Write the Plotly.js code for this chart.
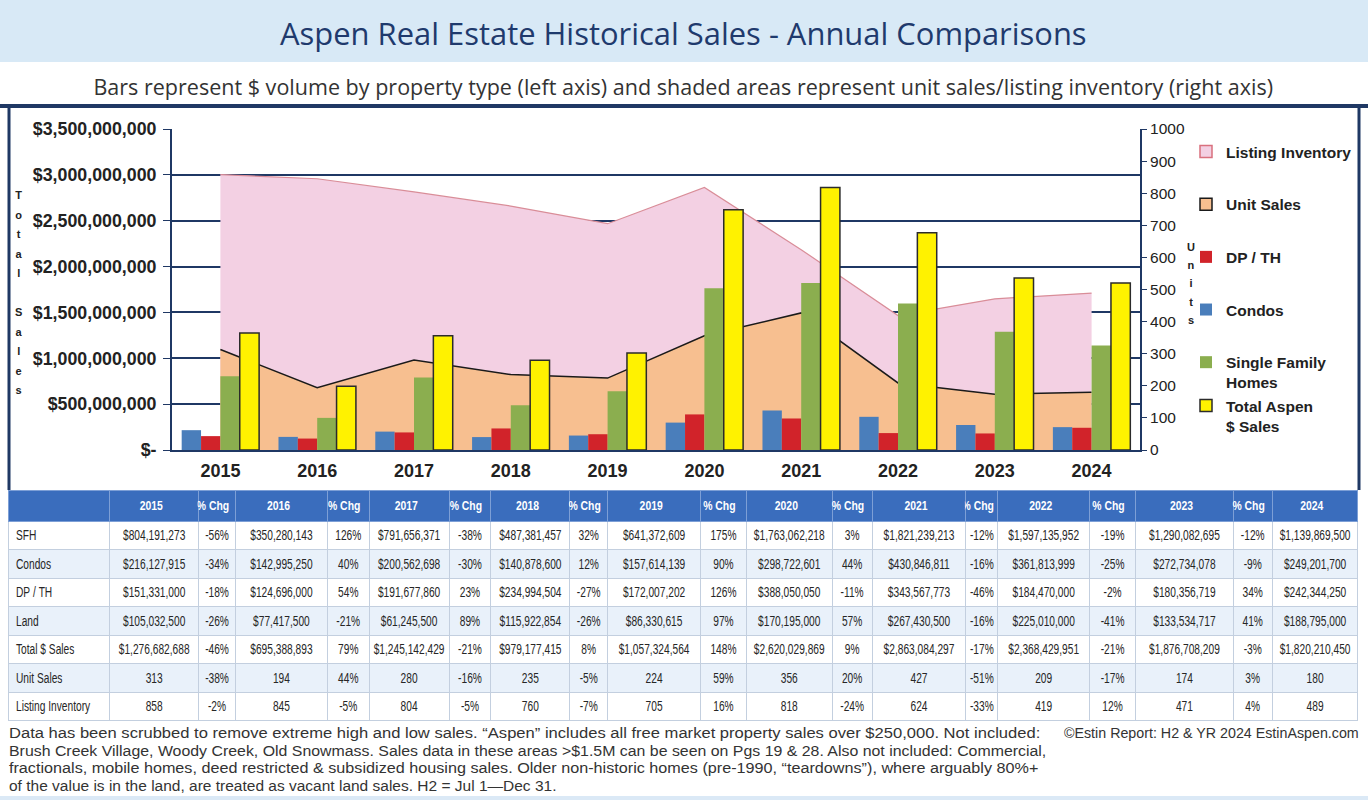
<!DOCTYPE html>
<html><head><meta charset="utf-8">
<script src="https://cdn.plot.ly/plotly-3.0.1.min.js"></script>
<style>html,body{margin:0;padding:0;background:#fff;} #chart{width:1368px;height:800px;}</style>
</head><body><div id="chart"></div>
<script>
// ---------------- DATA ----------------
const years = ['2015','2016','2017','2018','2019','2020','2021','2022','2023','2024'];
const sfh = [804191273,350280143,791656371,487381457,641372609,1763062218,1821239213,1597135952,1290082695,1139869500];
const condos = [216127915,142995250,200562698,140878600,157614139,298722601,430846811,361813999,272734078,249201700];
const dpth = [151331000,124696000,191677860,234994504,172007202,388050050,343567773,184470000,180356719,242344250];
const land = [105032500,77417500,61245500,115922854,86330615,170195000,267430500,225010000,133534717,188795000];
const totalSales = [1276682688,695388893,1245142429,979177415,1057324564,2620029869,2863084297,2368429951,1876708209,1820210450];
const unitSales = [313,194,280,235,224,356,427,209,174,180];
const listingInventory = [858,845,804,760,705,818,624,419,471,489];

const sfhChg = [-56,126,-38,32,175,3,-12,-19,-12];
const condosChg = [-34,40,-30,12,90,44,-16,-25,-9];
const dpthChg = [-18,54,23,-27,126,-11,-46,-2,34];
const landChg = [-26,-21,89,-26,97,57,-16,-41,41];
const totalChg = [-46,79,-21,8,148,9,-17,-21,-3];
const unitChg = [-38,44,-16,-5,59,20,-51,-17,3];
const inventoryChg = [-2,-5,-5,-7,16,-24,-33,12,4];

const rowLabels = ['SFH','Condos','DP / TH','Land','Total $ Sales','Unit Sales','Listing Inventory'];
const pctHeader = '% Chg';
const dollarTicks = [0,500000000,1000000000,1500000000,2000000000,2500000000,3000000000,3500000000];
const unitTicks = [0,100,200,300,400,500,600,700,800,900,1000];

// ---------------- HELPERS ----------------
const W = 1368, H = 800;
const px = x => x / W;
const py = y => 1 - y / H;
const NAVY = '#1f3864';
const SANS = '"Liberation Sans",Arial,sans-serif';
const OPEN = '"Open Sans","Noto Sans",sans-serif';
const money = n => '$' + n.toLocaleString('en-US');
const pct = n => n + '%';
const nb = s => s.replace(/ /g, '\u00a0');

// ---------------- TRACES ----------------
const traces = [];
// legend proxies for the shaded areas (square swatches); drawn on a hidden axis
traces.push({type:'bar', name:'Listing Inventory', x:years, y:listingInventory, xaxis:'x', yaxis:'y3',
  marker:{color:'#f3d0e3', line:{color:'#d9707e', width:1.5}}, legendgroup:'g1', legendrank:1, hoverinfo:'skip'});
traces.push({type:'bar', name:'Unit Sales', x:years, y:unitSales, xaxis:'x', yaxis:'y3',
  marker:{color:'#f7bf90', line:{color:'#1a1a1a', width:1.5}}, legendgroup:'g2', legendrank:2, hoverinfo:'skip'});
// shaded areas (right axis)
traces.push({type:'scatter', name:'Listing Inventory', x:years, y:listingInventory, xaxis:'x', yaxis:'y',
  mode:'lines', fill:'tozeroy', fillcolor:'#f3d0e3', line:{color:'#d98d98', width:1.2},
  showlegend:false, hoverinfo:'skip'});
traces.push({type:'scatter', name:'Unit Sales', x:years, y:unitSales, xaxis:'x', yaxis:'y',
  mode:'lines', fill:'tozeroy', fillcolor:'#f7bf90', line:{color:'#1a1a1a', width:1.5},
  showlegend:false, hoverinfo:'skip'});
// bars (left axis)
const barSpec = [
  ['Condos', condos, '#4a7ebb', 4, 'g4', 0, '#4a7ebb'],
  ['DP / TH', dpth, '#d1232a', 3, 'g3', 0, '#d1232a'],
  ['Single Family<br>Homes', sfh, '#8bae4f', 5, 'g5', 0, '#8bae4f'],
  ['Total Aspen<br>$ Sales', totalSales, '#fff200', 6, 'g5', 1.5, '#2b2b2b']
];
barSpec.forEach(([name, vals, col, rank, grp, lw, lc]) => {
  traces.push({type:'bar', name:name, x:years, y:vals, xaxis:'x', yaxis:'y2',
    marker:{color:col, line:{color:lc, width:lw}},
    legendgroup:grp, legendrank:rank, hoverinfo:'skip'});
});

// table
const valueRows = [sfh, condos, dpth, land, totalSales, unitSales, listingInventory];
const chgRows = [sfhChg, condosChg, dpthChg, landChg, totalChg, unitChg, inventoryChg];
const isMoney = [true,true,true,true,true,false,false];
const headerVals = [''];
const cellCols = [rowLabels.map(nb)];
years.forEach((yr, i) => {
  headerVals.push('<b>' + yr + '</b>');
  cellCols.push(valueRows.map((r, k) => isMoney[k] ? money(r[i]) : String(r[i])));
  if (i < years.length - 1) {
    headerVals.push('<b>' + nb(pctHeader) + '</b>');
    cellCols.push(chgRows.map(r => pct(r[i])));
  }
});
const colWidths = [102,89,37,92,42,80,42,79,38,93,46,86,40,94,32,92,46,98,39,86];
const rowFill = rowLabels.map((_, k) => k % 2 === 0 ? '#ffffff' : '#e9f1fa');
traces.push({type:'table',
  domain:{x:[px(8), px(1358)], y:[py(722), py(490)]},
  columnwidth: colWidths,
  header:{values: headerVals, height:27, align:'center',
    fill:{color:'#3a6dbd'}, line:{color:'#7d9fd6', width:1},
    font:{family:SANS, size:13, color:'#ffffff'}},
  cells:{values: cellCols, height:28.5, align:['left','center'],
    fill:{color:[rowFill]}, line:{color:'#c3cfdf', width:1},
    font:{family:SANS, size:15, color:'#262626'}}
});

// ---------------- LAYOUT ----------------
const annotations = [];
const fitTargets = [];   // desired rendered text widths (px) for each annotation, null = natural
function addAnn(a, fit) { annotations.push(a); fitTargets.push(fit); }
addAnn({xref:'paper', yref:'paper', x:px(683), y:py(33), xanchor:'center', yanchor:'middle', showarrow:false, align:'center',
  text:'Aspen Real Estate Historical Sales - Annual Comparisons', font:{family:OPEN, size:31, color:'#1f3a6d'}}, 807);
addAnn({xref:'paper', yref:'paper', x:px(683), y:py(87), xanchor:'center', yanchor:'middle', showarrow:false, align:'center',
  text:'Bars represent $ volume by property type (left axis) and shaded areas represent unit sales/listing inventory (right axis)',
  font:{family:OPEN, size:21, color:'#333333'}}, 1180);
const stack = s => s.split('').map(c => c === ' ' ? '' : '<span style="font-size:11px">' + c + '</span>').join('<br>');
addAnn({xref:'paper', yref:'paper', x:px(19), y:py(292), xanchor:'center', yanchor:'middle', showarrow:false,
  text:'<b>' + stack('Total Sales') + '</b>', font:{family:SANS, size:15, color:'#222'}}, null);
addAnn({xref:'paper', yref:'paper', x:px(1191), y:py(283), xanchor:'center', yanchor:'middle', showarrow:false,
  text:'<b>' + stack('Units') + '</b>', font:{family:SANS, size:14, color:'#222'}}, null);
const foot = [
  'Data has been scrubbed to remove extreme high and low sales. \u201cAspen\u201d includes all free market property sales over $250,000. Not included:',
  'Brush Creek Village, Woody Creek, Old Snowmass. Sales data in these areas >$1.5M can be seen on Pgs 19 & 28. Also not included: Commercial,',
  'fractionals, mobile homes, deed restricted & subsidized housing sales. Older non-historic homes (pre-1990, \u201cteardowns\u201d), where arguably 80%+',
  'of the value is in the land, are treated as vacant land sales. H2 = Jul 1\u2014Dec 31.'
];
const footWidths = [1032, 1038, 1030, 548];
foot.forEach((t, i) => addAnn({xref:'paper', yref:'paper', x:px(7), y:py(733 + i*17.7), xanchor:'left', yanchor:'middle',
  align:'left', showarrow:false, text:t, font:{family:SANS, size:14.5, color:'#333333'}}, footWidths[i]));
addAnn({xref:'paper', yref:'paper', x:px(1361), y:py(733), xanchor:'right', yanchor:'middle', align:'right', showarrow:false,
  text:'\u00a9Estin Report: H2 & YR 2024 EstinAspen.com', font:{family:SANS, size:14.5, color:'#333333'}}, 295);

const shapes = [
  {type:'rect', xref:'paper', yref:'paper', x0:0, x1:1, y0:py(62), y1:1, fillcolor:'#d8e9f6', line:{width:0}, layer:'below'},
  {type:'rect', xref:'paper', yref:'paper', x0:0, x1:1, y0:0, y1:py(796), fillcolor:'#dbe9f6', line:{width:0}, layer:'below'},
  {type:'line', xref:'paper', yref:'paper', x0:0, x1:1, y0:py(106), y1:py(106), line:{color:NAVY, width:4}},
  {type:'line', xref:'paper', yref:'paper', x0:px(9), x1:px(9), y0:py(106), y1:py(490), line:{color:NAVY, width:3}},
  {type:'line', xref:'paper', yref:'paper', x0:px(1359), x1:px(1359), y0:py(106), y1:py(490), line:{color:NAVY, width:3}}
];

const layout = {
  width:W, height:H, margin:{l:0, r:0, t:0, b:0}, paper_bgcolor:'#ffffff', plot_bgcolor:'rgba(0,0,0,0)',
  showlegend:true, barmode:'group', bargap:0.2, bargroupgap:0,
  xaxis:{domain:[px(172), px(1140)], type:'category', anchor:'y2', showline:true, linecolor:NAVY, linewidth:2,
    ticks:'', showgrid:false, ticklabelstandoff:3, tickfont:{family:SANS, size:18, color:'#222', weight:'bold'}, fixedrange:true},
  yaxis:{domain:[py(450), py(129)], range:[0,1000], side:'right', anchor:'x', tickvals:unitTicks,
    showline:true, linecolor:NAVY, linewidth:2, ticks:'outside', ticklen:5, tickcolor:NAVY, showgrid:false, zeroline:false,
    tickfont:{family:SANS, size:15.5, color:'#222'}, fixedrange:true},
  yaxis2:{overlaying:'y', side:'left', anchor:'x', range:[0,3500000000], tickvals:dollarTicks,
    ticktext:dollarTicks.map(v => (v === 0 ? '$-' : money(v))),
    showline:true, linecolor:NAVY, linewidth:2, ticks:'outside', ticklen:7, tickcolor:NAVY, ticklabelstandoff:3,
    showgrid:true, gridcolor:NAVY, gridwidth:2, zeroline:false,
    tickfont:{family:SANS, size:17.8, color:'#222', weight:'bold'}, fixedrange:true},
  yaxis3:{overlaying:'y', anchor:'x', range:[-2,-1], visible:false, fixedrange:true},
  legend:{x:px(1186), y:py(135), xanchor:'left', yanchor:'top', bgcolor:'rgba(0,0,0,0)',
    font:{family:SANS, size:15.5, color:'#222', weight:'bold'}, tracegroupgap:29.5, valign:'top',
    itemclick:false, itemdoubleclick:false},
  annotations:annotations, shapes:shapes
};

// horizontal condensing of a text element about its anchor point
function condense(el, f) {
  const bb = el.getBBox();
  if (!bb.width || !isFinite(f)) return;
  const ta = el.getAttribute('text-anchor') || getComputedStyle(el).textAnchor;
  let ox = bb.x + bb.width / 2;
  if (ta === 'start') ox = bb.x; else if (ta === 'end') ox = bb.x + bb.width;
  const prev = el.getAttribute('transform') || '';
  el.setAttribute('transform', (prev + ' matrix(' + f.toFixed(4) + ',0,0,1,' + (ox * (1 - f)).toFixed(3) + ',0)').trim());
}
Plotly.newPlot('chart', traces, layout, {displayModeBar:false, staticPlot:true}).then(gd => {
  // condensed table lettering, as in the reference
  gd.querySelectorAll('.table .y-column').forEach(col => {
    col.querySelectorAll('text').forEach(t => {
      const inHeader = !!t.closest('#header, .header, [class*="header"]');
      condense(t, inHeader ? 0.8 : 0.68);
    });
  });
  // fit annotation texts to the reference widths
  gd.querySelectorAll('.annotation').forEach((a, i) => {
    const target = fitTargets[i];
    const t = a.querySelector('text.annotation-text');
    if (target && t) { const w = t.getBBox().width; if (w) condense(t, target / w); }
  });
});
</script></body></html>
